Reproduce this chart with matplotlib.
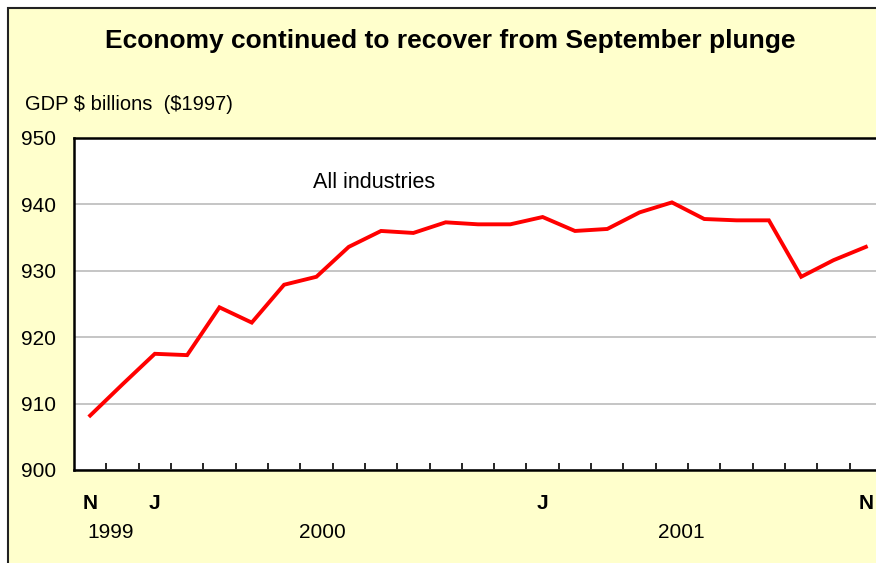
import numpy as np
import matplotlib
matplotlib.use("Agg")
import matplotlib.pyplot as plt
from matplotlib.patches import Rectangle

plt.rcParams['font.family'] = ['Liberation Sans', 'DejaVu Sans']

# GDP, $ billions (1997 dollars), monthly Nov 1999 - Nov 2001
months = ['Nov', 'Dec', 'Jan', 'Feb', 'Mar', 'Apr', 'May', 'Jun', 'Jul', 'Aug', 'Sep', 'Oct',
          'Nov', 'Dec', 'Jan', 'Feb', 'Mar', 'Apr', 'May', 'Jun', 'Jul', 'Aug', 'Sep', 'Oct', 'Nov']
gdp = [908.2, 912.9, 917.5, 917.3, 924.5, 922.2, 927.9, 929.1, 933.6, 936.0, 935.7, 937.3,
       937.0, 937.0, 938.1, 936.0, 936.3, 938.8, 940.3, 937.8, 937.6, 937.6, 929.1, 931.6, 933.6]
month_labels = {0: 'N', 2: 'J', 14: 'J', 24: 'N'}
years = ['1999', '2000', '2001']
year_pos = [0.62, 7.2, 18.3]
yticks = [900, 910, 920, 930, 940, 950]

W, H = 876, 563
fig = plt.figure(figsize=(W / 100, H / 100), dpi=100)
fig.patch.set_facecolor('white')
# yellow chart frame, cut off at right and bottom like the original
frame = Rectangle((8 / W, -0.05), 1.1, (H - 8) / H + 0.05, transform=fig.transFigure,
                  facecolor='#FFFFCC', edgecolor='#222222', linewidth=1.5, zorder=-10)
fig.add_artist(frame)

ax = fig.add_axes([74 / W, (H - 470) / H, 808 / W, 332 / H])
ax.set_zorder(5)
ax.set_facecolor('white')
x = np.arange(len(gdp))
ax.plot(x, gdp, color='#FF0000', linewidth=2.8, solid_joinstyle='miter', zorder=3)

ax.set_xlim(-0.5, len(gdp) - 0.5)
ax.set_ylim(900, 950)
ax.set_yticks(yticks)
ax.set_yticklabels([str(v) for v in yticks], fontsize=15)
ax.tick_params(axis='y', length=0, pad=13)
ax.yaxis.grid(True, color='#C0C0C0', linewidth=1.3)
ax.set_axisbelow(True)

# category boundary ticks, pointing up
ax.set_xticks(np.arange(0.5, len(gdp) - 0.5, 1))
ax.set_xticklabels([])
ax.tick_params(axis='x', which='major', direction='in', length=5, width=1.2, color='black')
ax.set_xticks(list(month_labels.keys()), minor=True)
ax.set_xticklabels(list(month_labels.values()), minor=True, fontsize=15, fontweight='bold')
ax.tick_params(axis='x', which='minor', length=0, pad=17)

for s in ax.spines.values():
    s.set_color('black')
    s.set_linewidth(1.8)

for yr, p in zip(years, year_pos):
    ax.text(p, -0.187, yr, transform=ax.get_xaxis_transform(), ha='center', va='center',
            fontsize=15)

ax.text(6.9, 943.3, 'All industries', fontsize=15.5, ha='left', va='center')

fig.text(450 / W, 1 - 41 / H, 'Economy continued to recover from September plunge',
         ha='center', va='center', fontsize=19, fontweight='bold')
fig.text(25 / W, 1 - 105 / H, r'GDP \$ billions  (\$1997)', ha='left', va='center', fontsize=14.5)

fig.savefig('out.png', dpi=100, facecolor=fig.get_facecolor())
